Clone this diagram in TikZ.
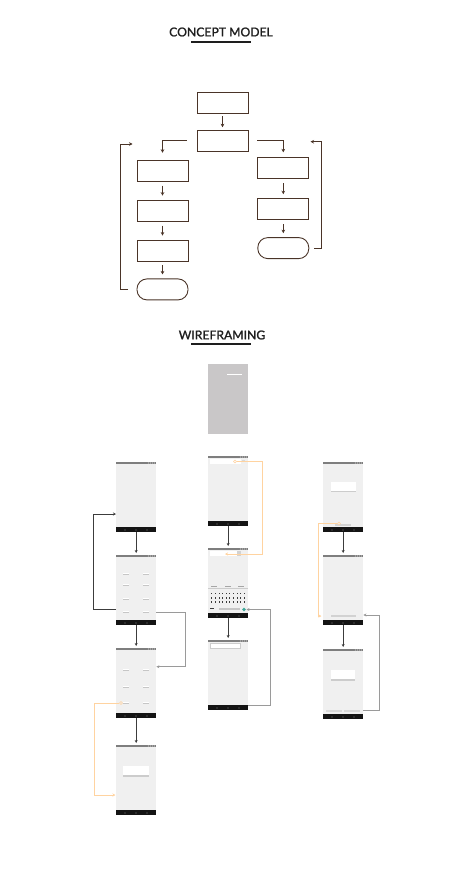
\documentclass[tikz,border=0pt]{standalone}
\usepackage{fontspec}
\setmainfont{Lato}
\newfontfamily\titlefont{Lato}[FakeBold=1.4]
\usepackage{tikz}
\usetikzlibrary{arrows.meta,positioning}

\definecolor{conceptline}{HTML}{4A3428}
\definecolor{titleink}{HTML}{1E1E1E}
\definecolor{screenbg}{HTML}{F0F0F0}
\definecolor{statusgrey}{HTML}{7E7E7E}
\definecolor{navblack}{HTML}{141414}
\definecolor{splashgrey}{HTML}{C9C7C8}
\definecolor{wfdark}{HTML}{3C3C3C}
\definecolor{wfgrey}{HTML}{9A9A9A}
\definecolor{wforange}{HTML}{FFD3A0}
\definecolor{keyteal}{HTML}{3FA89A}

\tikzset{
  flowbox/.style={draw=conceptline,line width=0.9pt,minimum width=51pt,minimum height=21pt,inner sep=0pt},
  flowend/.style={flowbox,rounded corners=10pt},
  flowarrow/.style={conceptline,line width=0.9pt,-{Stealth[length=3.5pt,width=3.6pt]}},
  screen/.style={fill=screenbg,minimum width=40pt,minimum height=70pt,inner sep=0pt,anchor=north west},
  wfarrow/.style={wfdark,line width=0.8pt,-{Stealth[length=3pt,width=3pt]}},
  wflink/.style={wfgrey,line width=0.8pt,-{Stealth[length=3pt,width=3pt]}},
  wfhot/.style={wforange,line width=0.8pt,-{Stealth[length=3pt,width=3pt]}},
  hotspot/.style={circle,draw=wforange,line width=0.6pt,minimum size=3pt,inner sep=0pt},
  sectiontitle/.style={font=\titlefont\fontsize{12.2}{14}\selectfont,text=titleink,inner sep=0pt},
  underline/.style={titleink,line width=2pt},
}

% one phone screen: name, x, y (top left)
\newcommand{\wfscreen}[3]{%
  \node[screen] (#1) at (#2,#3) {};
  \fill[statusgrey] (#1.north west) rectangle ([yshift=-2pt]#1.north east);
  \foreach \dx in {2,4,6,8} \fill[white] ([xshift=-\dx pt,yshift=-1pt]#1.north east) circle (0.45pt);
  \fill[navblack] ([yshift=5pt]#1.south west) rectangle (#1.south east);
  \foreach \dx in {9,20,31} \fill[gray] ([xshift=\dx pt,yshift=2.5pt]#1.south west) circle (0.6pt);
}
\newcommand{\wfdash}[2]{%
  \fill[gray!45] (#1-3,#2-0.3) rectangle (#1+3,#2+1);
  \fill[white] (#1-3,#2-1) rectangle (#1+3,#2+0.2);
}
\newcommand{\wfdialog}[4]{%
  \fill[gray!40] (#1,#4-1) rectangle (#3,#4+0.6);
  \fill[white] (#1,#2) rectangle (#3,#4-1);
}

\begin{document}
\begin{tikzpicture}[x=1pt,y=-1pt]
  \useasboundingbox (0,0) rectangle (451,876);

  % concept model
  \node[sectiontitle] (cmtitle) at (221,32) {CONCEPT MODEL};
  \draw[underline] (191,41.7) -- (251,41.7);

  \node[flowbox] (start) at (222.5,103) {};
  \node[flowbox] (hub) at (222.5,140.7) {};
  \node[flowbox] (left1) at (162.5,170.7) {};
  \node[flowbox,below=18pt of left1] (left2) {};
  \node[flowbox,below=18pt of left2] (left3) {};
  \node[flowend,below=17pt of left3] (leftend) {};
  \node[flowbox] (right1) at (283.3,168.3) {};
  \node[flowbox,below=19pt of right1] (right2) {};
  \node[flowend,below=17pt of right2] (rightend) {};
  \coordinate (leftback) at (132.5,144);
  \coordinate (rightback) at (310.5,141.7);

  \draw[flowarrow,shorten <=2.5pt,shorten >=2.5pt] (start) -- (hub);
  \draw[flowarrow] ([xshift=-10pt]hub.west) -| ([yshift=7pt]left1.north);
  \draw[flowarrow] ([xshift=9pt]hub.east) -| ([yshift=5pt]right1.north);
  \foreach \a/\b in {left1/left2,left2/left3,left3/leftend,right1/right2,right2/rightend}
    \draw[flowarrow,shorten <=4pt,shorten >=4pt] (\a) -- (\b);
  \draw[flowarrow] ([xshift=-8.5pt]leftend.west) -- ++(-7.5,0) |- (leftback);
  \draw[flowarrow] ([xshift=5pt]rightend.east) -- ++(7.5,0) |- (rightback);

  % wireframing
  \node[sectiontitle] (wftitle) at (222,335) {WIREFRAMING};
  \draw[underline] (191,344.3) -- (251,344.3);

  \node[screen,fill=splashgrey] (splash) at (208,364) {};
  \draw[white,line width=0.35pt] ([xshift=-21pt,yshift=-10pt]splash.north east) -- ([xshift=-6pt,yshift=-10pt]splash.north east);

  \wfscreen{home}{116}{462}
  \wfscreen{grid}{116}{555}
  \wfscreen{subgrid}{116}{648}
  \wfscreen{dialog}{116}{745}
  \wfscreen{searchEmpty}{208}{456}
  \wfscreen{searchType}{208}{548}
  \wfscreen{searchResult}{208}{640}
  \wfscreen{popupA}{323}{462}
  \wfscreen{listB}{323}{555}
  \wfscreen{popupB}{323}{649}

  \begin{scope}[shift={(grid.north west)}]
    \foreach \iy in {19,30,44,57} \foreach \ix in {10,30} {\wfdash{\ix}{\iy}}
  \end{scope}
  \begin{scope}[shift={(subgrid.north west)}]
    \foreach \iy in {22,39,55} \foreach \ix in {10,30} {\wfdash{\ix}{\iy}}
    \node[hotspot] (gridhot) at (5,55) {};
  \end{scope}
  \begin{scope}[shift={(dialog.north west)}]
    \wfdialog{7}{21}{33}{31}
  \end{scope}

  \begin{scope}[shift={(searchEmpty.north west)}]
    \fill[white] (2,2.5) rectangle (33,7.5);
    \fill[gray!30] (34,4) rectangle (37,6);
    \node[hotspot] (searchhot) at (27,5.5) {};
  \end{scope}
  \begin{scope}[shift={(searchType.north west)}]
    \fill[white] (2,2.7) rectangle (33,7.5);
    \fill[gray!35] (29,2.7) rectangle (33,7.5);
    \coordinate (typefield) at (17,6);
    \fill[gray!12] (0,35) rectangle (40,65);
    \draw[gray!40,line width=0.3pt] (0,40.5) -- (40,40.5);
    \foreach \sx in {6,20,33} \fill[gray!70] (\sx-3,37.8) rectangle (\sx+3,38.6);
    \foreach \ky in {45.3,49.7,53.7} \foreach \kx in {0,...,9}
      \fill[wfdark] (3.8+3.6*\kx-0.5,\ky-0.8) rectangle (3.8+3.6*\kx+0.5,\ky+0.8);
    \fill[wfdark] (2,60.3) rectangle (6,61.3);
    \fill[gray!45] (11,59.8) rectangle (32,62);
    \node[circle,fill=keyteal,minimum size=3.6pt,inner sep=0pt] (sendkey) at (36,61.5) {};
  \end{scope}
  \begin{scope}[shift={(searchResult.north west)}]
    \filldraw[fill=white,draw=gray!40,line width=0.3pt] (2,3) rectangle (32,8);
  \end{scope}

  \begin{scope}[shift={(popupA.north west)}]
    \wfdialog{7.5}{20}{32.5}{29.5}
    \fill[gray!35] (12,61.5) rectangle (28,63.5);
    \node[hotspot] (popuphot) at (16,61.5) {};
  \end{scope}
  \begin{scope}[shift={(listB.north west)}]
    \fill[gray!35] (8,60) rectangle (32.5,61.8);
  \end{scope}
  \begin{scope}[shift={(popupB.north west)}]
    \wfdialog{8}{21.3}{32}{31.3}
    \fill[gray!30] (2.7,60.6) rectangle (19.4,63.3);
    \fill[gray!30] (20.7,60.6) rectangle (36.7,63.3);
  \end{scope}

  % flows between screens
  \draw[wfarrow,shorten >=2pt] (home.south) -- (grid.north);
  \draw[wfarrow,shorten >=2pt] (subgrid.south) -- (dialog.north);
  \draw[wfarrow] ([yshift=-54pt]grid.north west) -- ++(-22.5,0) |- ([yshift=-52pt]home.north west);
  \draw[wflink] ([yshift=-57.7pt]grid.north east) -- ++(29,0) |- ([yshift=-18.7pt]subgrid.north east);
  \draw[wfarrow,shorten >=2pt] (grid.south) -- (subgrid.north);
  \draw[wfhot] (gridhot.west) -- ++(-25,0) |- ([xshift=-0.5pt,yshift=-50pt]dialog.north west);

  \draw[wfarrow,shorten >=2pt] (searchEmpty.south) -- (searchType.north);
  \draw[wfarrow,shorten >=2pt] (searchType.south) -- (searchResult.north);
  \draw[wfhot] (searchhot.east) -- ++(26,0) |- (typefield);
  \draw[wflink] ([yshift=-65pt]searchResult.north east) -- ++(21.5,0) |- ([xshift=0.5pt]sendkey.east);

  \draw[wfarrow,shorten >=2pt] (popupA.south) -- (listB.north);
  \draw[wfarrow,shorten >=2pt] (listB.south) -- (popupB.north);
  \draw[wfhot] (popuphot.west) -- ++(-19,0) |- ([xshift=-1.5pt,yshift=-61pt]listB.north west);
  \draw[wflink] ([yshift=-61pt]popupB.north east) -- ++(16,0) |- ([yshift=-60pt]listB.north east);
\end{tikzpicture}
\end{document}
